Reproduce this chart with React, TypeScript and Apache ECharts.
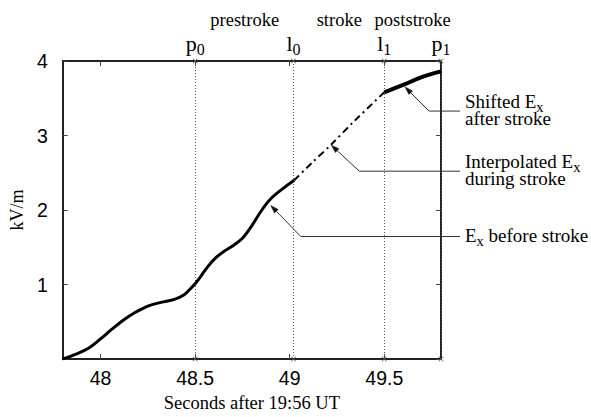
import { useEffect, useRef } from 'react';
import * as echarts from 'echarts';

// Field before the stroke (seconds after 19:56 UT, kV/m)
const beforeT = [47.8, 47.87, 47.94, 48.0, 48.06, 48.12, 48.18, 48.25, 48.32, 48.39, 48.44, 48.47, 48.5, 48.53, 48.57, 48.61, 48.65, 48.7, 48.75, 48.8, 48.85, 48.9, 48.96, 49.024];
const beforeE = [0, 0.065, 0.15, 0.27, 0.4, 0.52, 0.62, 0.71, 0.76, 0.8, 0.86, 0.93, 1.01, 1.11, 1.25, 1.36, 1.44, 1.52, 1.62, 1.79, 1.99, 2.15, 2.28, 2.4];

// Interpolated field during the stroke
const interpT = [49.024, 49.12, 49.22, 49.34, 49.5];
const interpE = [2.4, 2.64, 2.88, 3.19, 3.58];

// Shifted field after the stroke
const afterT = [49.5, 49.61, 49.705, 49.8];
const afterE = [3.58, 3.69, 3.79, 3.86];

// Interval boundaries p0, l0, l1, p1
const markerT = [48.5, 49.024, 49.5, 49.8];
const markerLetter = ['p', 'l', 'l', 'p'];
const markerSub = ['0', '0', '1', '1'];

const phaseNames = ['prestroke', 'stroke', 'poststroke'];

const xTickValues = [48, 48.5, 49, 49.5];

// Annotation arrows: tip in data coordinates, text lines
const annotTip: [number, number][] = [[49.61, 3.65], [49.22, 2.87], [48.9, 2.06]];
const annotText = [
  '{m|Shifted E}{s|x}\n{m|after stroke}',
  '{m|Interpolated E}{s|x}\n{m|during stroke}',
  '{m|E}{s|x}{m| before stroke}',
];

const SERIF = '"Liberation Serif", "Times New Roman", serif';
const SANS = '"Liberation Sans", Arial, sans-serif';

const zip = (a: number[], b: number[]) => a.map((v, i) => [v, b[i]]);

export default function App() {
  const ref = useRef<HTMLDivElement>(null);

  useEffect(() => {
    if (!ref.current) return;
    const chart = echarts.init(ref.current, null, { renderer: 'svg' });

    const crossSymbol = 'path://M0,1L1,0L5,4L9,0L10,1L6,5L10,9L9,10L5,6L1,10L0,9L4,5Z';

    const axisCommon = {
      type: 'value' as const,
      axisLine: { show: true, onZero: false, lineStyle: { color: '#222', width: 2 } },
      axisTick: { show: true, inside: true, length: 5, lineStyle: { color: '#444', width: 1 } },
      splitLine: { show: false },
    };

    const subRich = {
      m: { fontFamily: SERIF, fontSize: 22, color: '#000', lineHeight: 22 },
      s: { fontFamily: SERIF, fontSize: 16, color: '#000', lineHeight: 22, padding: [12, 0, 0, 0] },
    };

    chart.setOption({
      animation: false,
      grid: { left: 58, right: 150, top: 61, bottom: 54 },
      xAxis: [
        {
          ...axisCommon,
          position: 'bottom',
          min: 47.8,
          max: 49.8,
          axisTick: { ...axisCommon.axisTick, customValues: xTickValues },
          axisLabel: {
            customValues: xTickValues,
            fontFamily: SANS,
            fontSize: 19.5,
            color: '#000',
            margin: 9,
            formatter: (v: number) => String(v),
          },
          name: 'Seconds after 19:56 UT',
          nameLocation: 'middle',
          nameGap: 34,
          nameTextStyle: { fontFamily: SERIF, fontSize: 18.5, color: '#000' },
        },
        {
          ...axisCommon,
          position: 'top',
          min: 47.8,
          max: 49.8,
          axisTick: { ...axisCommon.axisTick, customValues: xTickValues },
          axisLabel: { show: false },
        },
      ],
      yAxis: [
        {
          ...axisCommon,
          position: 'left',
          min: 0,
          max: 4,
          interval: 1,
          axisLabel: {
            fontFamily: SANS,
            fontSize: 19.5,
            color: '#000',
            margin: 15,
            formatter: (v: number) => (v === 0 ? '' : String(v)),
          },
          name: 'kV/m',
          nameLocation: 'middle',
          nameGap: 31,
          nameRotate: 90,
          nameTextStyle: { fontFamily: SERIF, fontSize: 18, color: '#000' },
        },
        {
          ...axisCommon,
          position: 'right',
          min: 0,
          max: 4,
          interval: 1,
          axisLabel: { show: false },
        },
      ],
      series: [
        {
          name: 'before',
          type: 'line',
          data: zip(beforeT, beforeE),
          smooth: 0.35,
          showSymbol: false,
          lineStyle: { color: '#000', width: 3 },
          z: 5,
          markLine: {
            silent: true,
            symbol: [crossSymbol, crossSymbol],
            symbolSize: 5,
            lineStyle: { color: '#555', width: 1, type: [1, 2] },
            label: {
              show: true,
              position: 'end',
              distance: 7,
              rich: subRich,
            },
            data: markerT.map((t, i) => ({
              xAxis: t,
              label: { formatter: `{m|${markerLetter[i]}}{s|${markerSub[i]}}` },
            })),
          },
          markArea: {
            silent: true,
            itemStyle: { color: 'rgba(0,0,0,0)' },
            label: {
              show: true,
              position: 'top',
              distance: 32,
              fontFamily: SERIF,
              fontSize: 18.5,
              color: '#000',
            },
            data: phaseNames.map((n, i) => [
              { xAxis: markerT[i], name: n },
              { xAxis: markerT[i + 1] },
            ]),
          },
        },
        {
          name: 'interpolated',
          type: 'line',
          data: zip(interpT, interpE),
          smooth: 0.3,
          showSymbol: false,
          lineStyle: { color: '#000', width: 2, type: [7, 4, 2, 4] },
          z: 5,
        },
        {
          name: 'after',
          type: 'line',
          data: zip(afterT, afterE),
          smooth: 0.3,
          showSymbol: false,
          lineStyle: { color: '#000', width: 4 },
          z: 5,
        },
      ],
    });

    // Annotation arrows with elbow leaders to the right-hand labels
    const elbowOffset: [number, number][] = [[24, 24], [28, 26], [30, 31]];
    const lineEndX = 460;
    const textX = 465;
    const graphics: any[] = [];
    annotTip.forEach((tip, i) => {
      const p = chart.convertToPixel({ xAxisIndex: 0, yAxisIndex: 0 }, tip) as number[];
      const elbow = [p[0] + elbowOffset[i][0], p[1] + elbowOffset[i][1]];
      const dx = elbow[0] - p[0];
      const dy = elbow[1] - p[1];
      const len = Math.hypot(dx, dy);
      const ux = dx / len;
      const uy = dy / len;
      const hl = 8;
      const hw = 2.6;
      const bx = p[0] + ux * hl;
      const by = p[1] + uy * hl;
      graphics.push({
        type: 'polyline',
        shape: { points: [[bx, by], elbow, [lineEndX, elbow[1]]] },
        style: { stroke: '#333', lineWidth: 1, fill: 'none' },
        z: 10,
      });
      graphics.push({
        type: 'polygon',
        shape: {
          points: [
            [p[0], p[1]],
            [bx - uy * hw, by + ux * hw],
            [bx + uy * hw, by - ux * hw],
          ],
        },
        style: { fill: '#111', stroke: '#111', lineWidth: 0.5 },
        z: 10,
      });
      graphics.push({
        type: 'text',
        x: textX,
        y: elbow[1] - 1,
        style: {
          text: annotText[i],
          align: 'left',
          verticalAlign: 'middle',
          rich: {
            m: { fontFamily: SERIF, fontSize: 19, color: '#000', lineHeight: 17 },
            s: { fontFamily: SERIF, fontSize: 14.5, color: '#000', lineHeight: 17, padding: [11, 0, 0, 0] },
          },
        },
        z: 10,
      });
    });
    chart.setOption({ graphic: graphics });

    return () => chart.dispose();
  }, []);

  return <div ref={ref} style={{ position: 'absolute', left: 0, top: 0, width: 591, height: 417 }} />;
}
